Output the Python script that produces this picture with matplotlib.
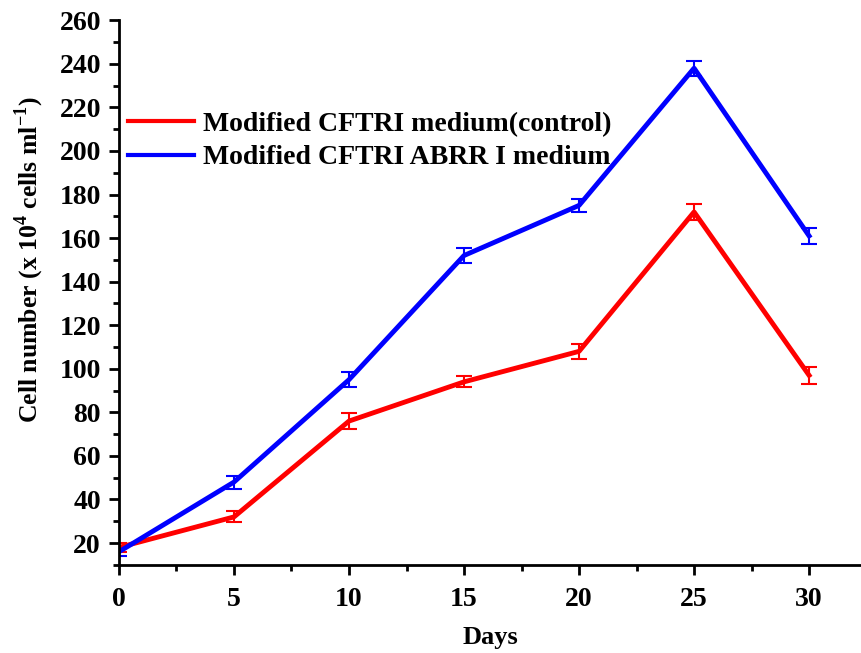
import matplotlib
matplotlib.use("Agg")
import matplotlib.pyplot as plt
from matplotlib.lines import Line2D
from matplotlib.ticker import MultipleLocator

days = [0, 5, 10, 15, 20, 25, 30]

# cell counts (x 10^4 cells/ml)
control = [18, 32, 76, 94, 108, 172, 97]
control_err = [2, 2.5, 3.5, 2.5, 3.5, 3.5, 4]
abrr = [16, 48, 95, 152, 175, 238, 161]
abrr_err = [2, 3, 3.5, 3.5, 3, 3.5, 3.5]

labels = ["Modified CFTRI medium(control)", "Modified CFTRI ABRR I medium"]
colors = ["#ff0000", "#0000ff"]

plt.rcParams["font.family"] = "Liberation Serif"
plt.rcParams["font.weight"] = "bold"
plt.rcParams["mathtext.fontset"] = "custom"
plt.rcParams["mathtext.bf"] = "Liberation Serif:bold"
plt.rcParams["mathtext.rm"] = "Liberation Serif:bold"

fig = plt.figure(figsize=(8.62, 6.53), dpi=100)
ax = fig.add_axes([0.138, 0.135, 0.862, 0.834])

ax.errorbar(days, control, yerr=control_err, color=colors[0], lw=3.5, capsize=6,
            capthick=1.5, elinewidth=1.5)
ax.errorbar(days, abrr, yerr=abrr_err, color=colors[1], lw=3.5, capsize=6,
            capthick=1.5, elinewidth=1.5)

ax.set_xlim(0, 32.3)
ax.set_ylim(10, 260)
ax.xaxis.set_major_locator(MultipleLocator(5))
ax.xaxis.set_minor_locator(MultipleLocator(2.5))
ax.set_yticks(range(20, 261, 20))
ax.yaxis.set_minor_locator(MultipleLocator(10))

for s in ["top", "right"]:
    ax.spines[s].set_visible(False)
for s in ["left", "bottom"]:
    ax.spines[s].set_linewidth(2)

ax.tick_params(which="major", direction="out", length=7, width=2, labelsize=20)
ax.tick_params(axis="x", which="major", pad=9)
ax.tick_params(axis="y", which="major", pad=6)
ax.tick_params(which="minor", direction="out", length=4, width=2)

ax.set_xlabel("Days", fontsize=19, fontweight="bold", labelpad=10)
ax.set_ylabel("Cell number (x 10$^{4}$ cells ml$^{-1}$)", fontsize=18.5,
              fontweight="bold")
ax.yaxis.set_label_coords(-0.098, 0.56)

handles = [Line2D([], [], color=c, lw=3) for c in colors]
ax.legend(handles, labels, loc="upper left", bbox_to_anchor=(-0.022, 0.878), frameon=False,
          fontsize=20, handlelength=2.4, handletextpad=0.3, labelspacing=0.28)

fig.savefig("out.png", dpi=100)
